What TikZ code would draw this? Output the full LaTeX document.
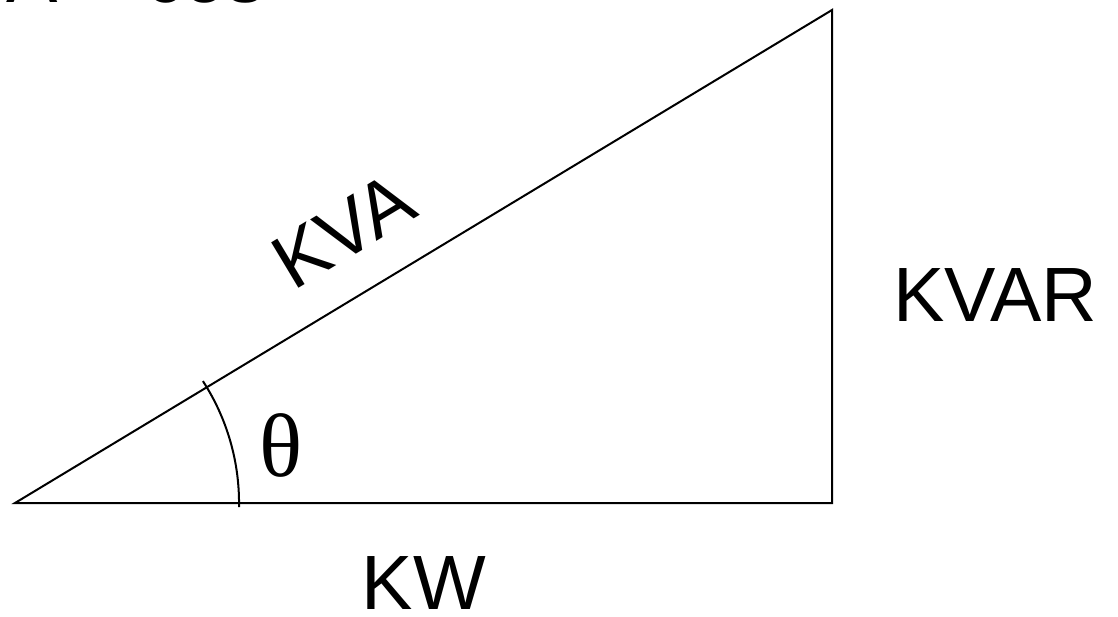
\documentclass[tikz,border=0pt]{standalone}
\usepackage{fontspec}
\setmainfont{Liberation Sans}
\newfontfamily\serifgreek{Liberation Serif}
\begin{document}
\begin{tikzpicture}[x=1pt,y=-1pt,
  edge/.style={draw=black,line width=2pt},
  lbl/.style={inner sep=0pt,font=\fontsize{77}{90}\selectfont}]
\useasboundingbox (0,0) rectangle (1118,616);
\clip (0,0) rectangle (1118,616);
\coordinate (A) at (15,503);
\coordinate (B) at (832,503);
\coordinate (C) at (832,10);
\draw[edge,line join=miter] (A) -- (B) -- (C) -- cycle;
\draw[edge] (239,507) arc[start angle=1,end angle=-33,radius=224];
\node[lbl,anchor=base west] (top) at (6,2) {A = cos};
\node[lbl,rotate=31] (kva) at (343,231) {KVA};
\node[lbl] (kvar) at (995,295) {KVAR};
\node[lbl] (kw) at (424,583) {KW};
\node[inner sep=0pt,font=\serifgreek\fontsize{90}{100}\selectfont] (th) at (281,445) {θ};
\end{tikzpicture}
\end{document}
